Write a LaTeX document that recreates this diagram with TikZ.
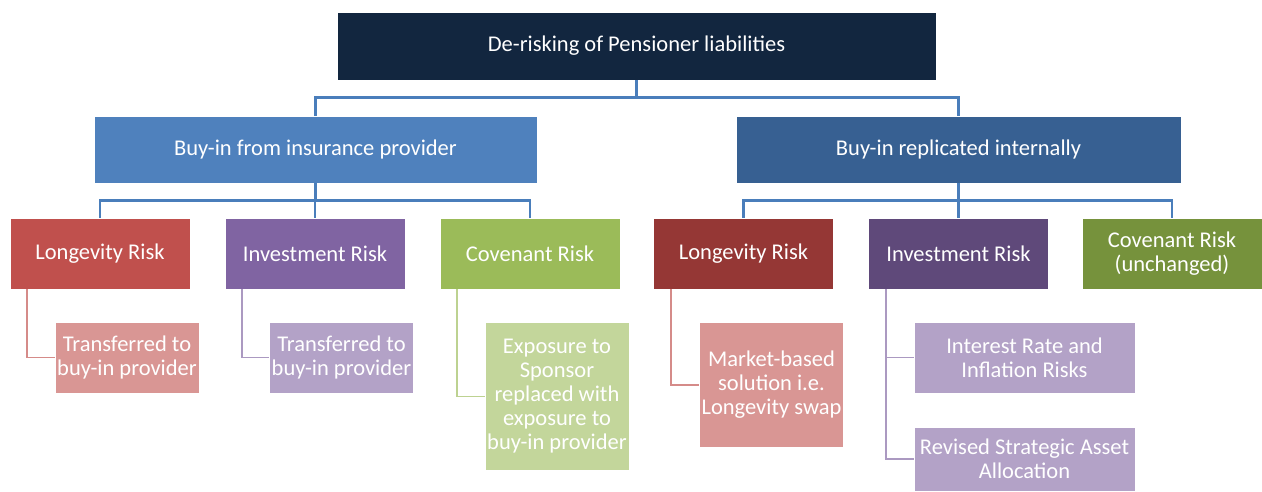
\documentclass[tikz,border=0pt]{standalone}
\usepackage{fontspec}
\setmainfont{Carlito}
\usetikzlibrary{positioning}

% box colours
\definecolor{navy}{HTML}{12263F}
\definecolor{blueA}{HTML}{4F81BD}
\definecolor{blueB}{HTML}{376092}
\definecolor{redA}{HTML}{C0504D}
\definecolor{purpA}{HTML}{8064A2}
\definecolor{greenA}{HTML}{9BBB59}
\definecolor{redB}{HTML}{953735}
\definecolor{purpB}{HTML}{5F497A}
\definecolor{greenB}{HTML}{76923C}
\definecolor{redL}{HTML}{D99694}
\definecolor{purpL}{HTML}{B3A2C7}
\definecolor{greenL}{HTML}{C3D69B}
\definecolor{linkblue}{HTML}{4A7EBB}

\tikzset{
  box/.style={draw=white, line width=0.5pt, text=white, align=center,
    inner sep=2pt, font=\fontsize{22.5}{24}\selectfont},
  risk/.style={box, minimum width=180pt, minimum height=71pt},
  link/.style={line width=2.8pt, draw=linkblue},
  sublink/.style={line width=1.8pt, draw=#1},
}

\begin{document}
\begin{tikzpicture}[x=1pt,y=-1pt]
  \useasboundingbox (0,0) rectangle (1262,491);

  % root and the two routes
  \node[box, fill=navy, minimum width=599pt, minimum height=68pt] (root) at (636.5,46) {De-risking of Pensioner liabilities};
  \node[box, fill=blueA, minimum width=443pt, minimum height=67pt] (ins) at (315.5,149.5) {Buy-in from insurance provider};
  \node[box, fill=blueB, minimum width=445pt, minimum height=67pt] (int) at (958.5,149.5) {Buy-in replicated internally};

  \draw[link] (root.south) -- ++(0,17) -| (ins.north);
  \draw[link] (root.south) -- ++(0,17) -| (int.north);

  % risks under each route
  \node[risk, fill=redA] (lonA) at (100,253.5) {Longevity Risk};
  \node[risk, fill=purpA] (invA) at (315,253.5) {Investment Risk};
  \node[risk, fill=greenA] (covA) at (530,253.5) {Covenant Risk};
  \node[risk, fill=redB] (lonB) at (743.5,253.5) {Longevity Risk};
  \node[risk, fill=purpB] (invB) at (958.5,253.5) {Investment Risk};
  \node[risk, fill=greenB] (covB) at (1172,253.5) {Covenant Risk\\(unchanged)};

  \foreach \r in {lonA,invA,covA}
    \draw[link] (ins.south) -- ++(0,17.5) -| (\r.north);
  \foreach \r in {lonB,invB,covB}
    \draw[link] (int.south) -- ++(0,17.5) -| (\r.north);

  % outcomes
  \node[box, fill=redL, minimum width=142pt, minimum height=71pt] (trA) at (127,357.5) {Transferred to\\buy-in provider};
  \node[box, fill=purpL, minimum width=143pt, minimum height=71pt] (trB) at (341.5,357.5) {Transferred to\\buy-in provider};
  \node[box, fill=greenL, minimum width=144pt, minimum height=148pt] (expo) at (557,396.5) {Exposure to\\Sponsor\\replaced with\\exposure to\\buy-in provider};
  \node[box, fill=redL, minimum width=143pt, minimum height=125pt] (swap) at (771.5,385) {Market-based\\solution i.e.\\Longevity swap};
  \node[box, fill=purpL, minimum width=221pt, minimum height=71pt] (rates) at (1024.5,357.5) {Interest Rate and\\Inflation Risks};
  \node[box, fill=purpL, minimum width=221pt, minimum height=64pt] (saa) at (1024.5,459) {Revised Strategic Asset\\Allocation};

  \draw[sublink=redL!85!redA] ([xshift=17pt]lonA.south west) |- (trA.west);
  \draw[sublink=purpL!85!purpA] ([xshift=17pt]invA.south west) |- (trB.west);
  \draw[sublink=greenL!85!greenA] ([xshift=17pt]covA.south west) |- (expo.west);
  \draw[sublink=redL!85!redA] ([xshift=18pt]lonB.south west) |- (swap.west);
  \draw[sublink=purpL!85!purpA] ([xshift=18pt]invB.south west) |- (rates.west);
  \draw[sublink=purpL!85!purpA] ([xshift=18pt]invB.south west) |- (saa.west);
\end{tikzpicture}
\end{document}
